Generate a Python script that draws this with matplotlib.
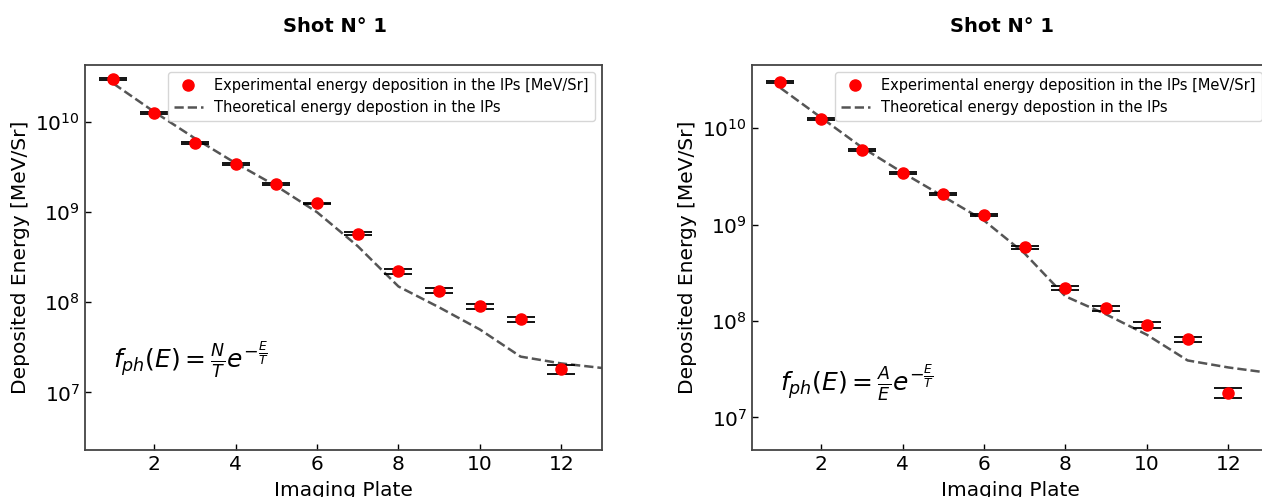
import matplotlib
matplotlib.use("Agg")
import matplotlib.pyplot as plt
from matplotlib.ticker import NullLocator, LogLocator

# imaging plate number
plates = [1, 2, 3, 4, 5, 6, 7, 8, 9, 10, 11, 12]
# experimental energy deposition [MeV/Sr] (same shot in both panels)
exp_energy = [3.0e10, 1.25e10, 5.9e9, 3.4e9, 2.05e9, 1.25e9, 5.8e8, 2.2e8, 1.35e8, 9.1e7, 6.5e7, 1.8e7]
exp_err = [0.9e9, 0.35e9, 0.15e9, 0.09e9, 0.05e9, 0.03e9, 0.02e9, 1.2e7, 0.8e7, 0.6e7, 0.4e7, 0.2e7]

# theoretical curves, sampled on plates 1..13
theo_plates = [1, 2, 3, 4, 5, 6, 7, 8, 9, 10, 11, 12, 13]
theo_exp = [2.67e10, 1.3e10, 6.6e9, 3.5e9, 1.95e9, 1.0e9, 4.2e8, 1.5e8, 8.8e7, 5.0e7, 2.5e7, 2.1e7, 1.87e7]
theo_brems = [2.6e10, 1.28e10, 6.3e9, 3.45e9, 1.95e9, 1.1e9, 5.0e8, 1.8e8, 1.17e8, 7.2e7, 3.9e7, 3.3e7, 2.9e7]

titles = ["Shot N° 1", "Shot N° 1"]
formulas = [r"$f_{ph}(E) = \frac{N}{T}e^{-\frac{E}{T}}$",
            r"$f_{ph}(E) = \frac{A}{E}e^{-\frac{E}{T}}$"]
ylims = [(2.3e6, 4.3e10), (4.6e6, 4.5e10)]

fig = plt.figure(figsize=(12.62, 4.97), dpi=100)
W, H = 1262.0, 497.0
ax_left = fig.add_axes([85 / W, 47 / H, 517 / W, 385 / H])
ax_right = fig.add_axes([752 / W, 47 / H, 517 / W, 385 / H])

for ax, theo, title, formula, ylim in zip([ax_left, ax_right], [theo_exp, theo_brems],
                                          titles, formulas, ylims):
    ax.set_yscale("log")
    ax.errorbar(plates, exp_energy, yerr=exp_err, fmt="none", ecolor="black",
                elinewidth=1.3, capsize=10, capthick=1.3, zorder=2)
    ax.plot(plates, exp_energy, "o", color="red", ms=8, zorder=3,
            label="Experimental energy deposition in the IPs [MeV/Sr]")
    ax.plot(theo_plates, theo, "--", color="#555555", lw=1.8, zorder=1,
            label="Theoretical energy depostion in the IPs")

    ax.set_xlim(0.3, 13)
    ax.set_ylim(*ylim)
    ax.set_xticks([2, 4, 6, 8, 10, 12])
    ax.yaxis.set_major_locator(LogLocator(base=10, numticks=10))
    ax.yaxis.set_minor_locator(NullLocator())
    ax.tick_params(direction="in", length=4, width=1, labelsize=14.5, colors="black")
    for sp in ax.spines.values():
        sp.set_color("#444444")
        sp.set_linewidth(1.3)

    # the x label is cut by the figure edge in the original too
    ax.set_xlabel("Imaging Plate", fontsize=14.5, labelpad=5)
    ax.set_ylabel("Deposited Energy [MeV/Sr]", fontsize=14.5)
    ax.set_title(title, fontsize=14, fontweight="bold", x=0.483, pad=24)
    ax.text(1.0, 2.3e7, formula, fontsize=18, va="center", ha="left")
    ax.legend(loc="upper right", fontsize=10.5, numpoints=1, framealpha=0.8)

fig.savefig("out.png", dpi=100)
